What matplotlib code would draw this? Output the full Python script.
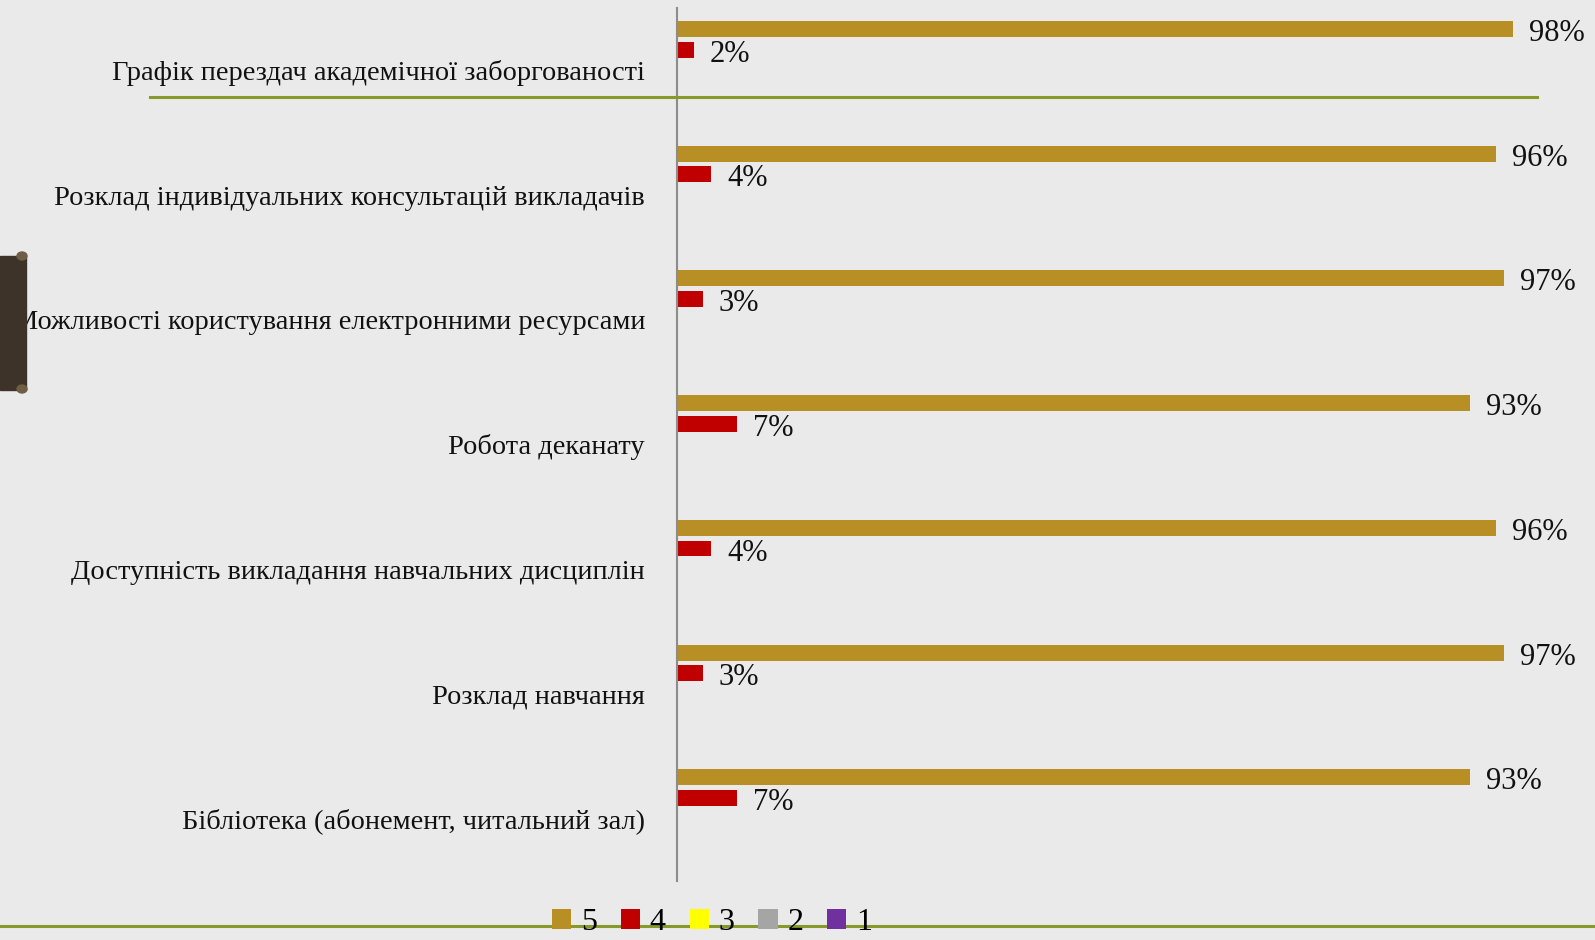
import matplotlib.pyplot as plt
from matplotlib.patches import Patch, Rectangle, Ellipse
from matplotlib.lines import Line2D

categories = [
    "Графік перездач академічної заборгованості",
    "Розклад індивідуальних консультацій викладачів",
    "Можливості користування електронними ресурсами",
    "Робота деканату",
    "Доступність викладання навчальних дисциплін",
    "Розклад навчання",
    "Бібліотека (абонемент, читальний зал)",
]
series_names = ["5", "4", "3", "2", "1"]
series_5 = [0.98, 0.96, 0.97, 0.93, 0.96, 0.97, 0.93]
series_4 = [0.02, 0.04, 0.03, 0.07, 0.04, 0.03, 0.07]
series_3 = [0, 0, 0, 0, 0, 0, 0]
series_2 = [0, 0, 0, 0, 0, 0, 0]
series_1 = [0, 0, 0, 0, 0, 0, 0]
all_series = [series_5, series_4, series_3, series_2, series_1]
colors = ["#B88F25", "#C00000", "#FFFF00", "#A5A5A5", "#7030A0"]

W, H = 1595, 940
bg = "#EAEAEA"
green = "#86992B"
plt.rcParams["font.family"] = ["Liberation Serif", "DejaVu Serif"]

fig = plt.figure(figsize=(W / 100, H / 100), dpi=100)
fig.patch.set_facecolor(bg)

# decorative lines and the dark tab on the left edge
fig.add_artist(Line2D([150 / W, 1537 / W], [1 - 97 / H] * 2, color=green, lw=2.2))
fig.add_artist(Line2D([0, 1], [1 - 926 / H] * 2, color=green, lw=2.2))
fig.add_artist(Rectangle((0, 1 - 390 / H), 26 / W, 134 / H, color="#3D3329",
                         transform=fig.transFigure))
for yy in (256, 389):
    fig.add_artist(Ellipse((22 / W, 1 - yy / H), 10 / W, 8 / H, color="#6E5E45",
                           transform=fig.transFigure))

ax = fig.add_axes([677 / W, 1 - 881 / H, 853 / W, 873 / H])
ax.set_facecolor("none")

slot = 0.166
bar_h = 0.128
for s, vals in enumerate(all_series):
    ys = [i + (s - 2) * slot for i in range(len(categories))]
    ax.barh(ys, vals, height=bar_h, color=colors[s], linewidth=0)
    if s < 2:
        for y, v in zip(ys, vals):
            ax.annotate(f"{v * 100:.0f}%", (v, y), xytext=(16, -1),
                        textcoords="offset pixels", ha="left", va="center_baseline",
                        fontsize=22, color="#111111", annotation_clip=False)

ax.set_xlim(0, 1)
ax.set_ylim(len(categories) - 0.5, -0.5)
ax.set_yticks(range(len(categories)))
ax.set_yticklabels(categories, fontsize=20.4, color="#111111")
ax.tick_params(axis="y", length=0, pad=23)
ax.set_xticks([])
for side in ["top", "right", "bottom"]:
    ax.spines[side].set_visible(False)
ax.spines["left"].set_color("#8C8C8C")
ax.spines["left"].set_linewidth(1.5)

handles = [Patch(facecolor=c, edgecolor="none") for c in colors]
fig.legend(handles, series_names, loc="center", bbox_to_anchor=(712 / W, 1 - 923 / H),
           ncol=5, frameon=False, fontsize=23, handlelength=0.6, handleheight=0.6,
           handletextpad=0.3, columnspacing=0.75, borderpad=0, borderaxespad=0)

fig.savefig("out.png", dpi=100, facecolor=bg)
